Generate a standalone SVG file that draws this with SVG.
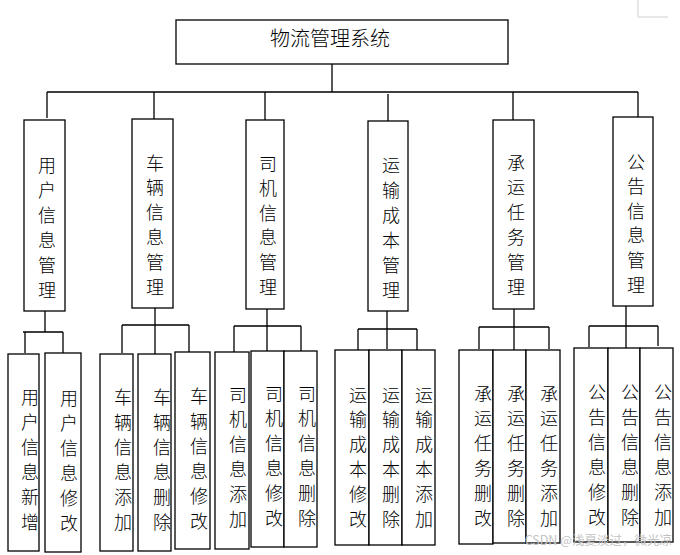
<svg xmlns="http://www.w3.org/2000/svg" width="680" height="555" viewBox="0 0 680 555">
<style>
.box{fill:#fff;stroke:#000;stroke-width:1.3}
.ln{fill:none;stroke:#000;stroke-width:1.3}
.t{font-family:"Noto Sans CJK SC","Noto Sans CJK JP",sans-serif;font-size:18px;font-weight:300;fill:#000;text-anchor:middle}
.title{font-family:"Noto Sans CJK SC","Noto Sans CJK JP",sans-serif;font-size:20px;font-weight:300;fill:#000;text-anchor:middle}
.wm{font-family:"Noto Sans CJK SC","Noto Sans CJK JP",sans-serif;font-size:12.5px;fill:#c4c4c4;text-anchor:end}
</style>
<rect width="680" height="555" fill="#fff"/>
<path d="M638 0V17H668" fill="none" stroke="#d0d0d0" stroke-width="1"/>

<g id="connectors">
<path class="ln" d="M332 64V92M47 92H638M47 92V118M154 92V119M265 92V120M388 94V121M513 92V120M638 92V117"/>
<path class="ln" d="M45 311V332M23 332H63M25 332V353M63 332V354"/>
<path class="ln" d="M155 308V325M122 325H189M122 325V353M155 325V354M189 325V352"/>
<path class="ln" d="M267 309V326M234 326H301M234 326V352M267 326V351M301 326V351"/>
<path class="ln" d="M387 311V349M358 329H417M358 329V350M417 329V350"/>
<path class="ln" d="M514 309V350M479 327H549M479 327V349M549 327V349"/>
<path class="ln" d="M626 306V348M589 326H658M589 326V347M658 326V346"/>
</g>

<g id="root"><rect class="box" x="176" y="20" width="332" height="44"/><text class="title" x="330" y="46">物流管理系统</text></g>

<g id="m1"><rect class="box" x="24" y="120" width="41" height="191"/><text class="t" x="47" y="171.5"><tspan x="47">用</tspan><tspan x="47" dy="25">户</tspan><tspan x="47" dy="25">信</tspan><tspan x="47" dy="25">息</tspan><tspan x="47" dy="25">管</tspan><tspan x="47" dy="25">理</tspan></text></g>
<g id="m2"><rect class="box" x="132" y="119" width="41" height="189"/><text class="t" x="155" y="169.5"><tspan x="155">车</tspan><tspan x="155" dy="24.8">辆</tspan><tspan x="155" dy="24.8">信</tspan><tspan x="155" dy="24.8">息</tspan><tspan x="155" dy="24.8">管</tspan><tspan x="155" dy="24.8">理</tspan></text></g>
<g id="m3"><rect class="box" x="246" y="120" width="38" height="189"/><text class="t" x="268" y="170.5"><tspan x="268">司</tspan><tspan x="268" dy="24.6">机</tspan><tspan x="268" dy="24.6">信</tspan><tspan x="268" dy="24.6">息</tspan><tspan x="268" dy="24.6">管</tspan><tspan x="268" dy="24.6">理</tspan></text></g>
<g id="m4"><rect class="box" x="368" y="121" width="40" height="190"/><text class="t" x="391" y="171.5"><tspan x="391">运</tspan><tspan x="391" dy="25">输</tspan><tspan x="391" dy="25">成</tspan><tspan x="391" dy="25">本</tspan><tspan x="391" dy="25">管</tspan><tspan x="391" dy="25">理</tspan></text></g>
<g id="m5"><rect class="box" x="493" y="120" width="41" height="189"/><text class="t" x="516" y="169.5"><tspan x="516">承</tspan><tspan x="516" dy="24.8">运</tspan><tspan x="516" dy="24.8">任</tspan><tspan x="516" dy="24.8">务</tspan><tspan x="516" dy="24.8">管</tspan><tspan x="516" dy="24.8">理</tspan></text></g>
<g id="m6"><rect class="box" x="613" y="117" width="40" height="189"/><text class="t" x="636" y="168.5"><tspan x="636">公</tspan><tspan x="636" dy="24.6">告</tspan><tspan x="636" dy="24.6">信</tspan><tspan x="636" dy="24.6">息</tspan><tspan x="636" dy="24.6">管</tspan><tspan x="636" dy="24.6">理</tspan></text></g>

<g id="l1"><rect class="box" x="8" y="354" width="31" height="197"/><text class="t" y="403.5"><tspan x="30">用</tspan><tspan x="30" dy="25">户</tspan><tspan x="30" dy="25">信</tspan><tspan x="30" dy="25">息</tspan><tspan x="30" dy="25">新</tspan><tspan x="30" dy="25">增</tspan></text></g>
<g id="l2"><rect class="box" x="45" y="353" width="36" height="199"/><text class="t" y="404.5"><tspan x="69">用</tspan><tspan x="69" dy="25">户</tspan><tspan x="69" dy="25">信</tspan><tspan x="69" dy="25">息</tspan><tspan x="69" dy="25">修</tspan><tspan x="69" dy="25">改</tspan></text></g>
<g id="l3"><rect class="box" x="100" y="354" width="33" height="197"/><text class="t" y="403.5"><tspan x="123">车</tspan><tspan x="123" dy="25">辆</tspan><tspan x="123" dy="25">信</tspan><tspan x="123" dy="25">息</tspan><tspan x="123" dy="25">添</tspan><tspan x="123" dy="25">加</tspan></text></g>
<g id="l4"><rect class="box" x="138" y="354" width="33" height="197"/><text class="t" y="403.5"><tspan x="162">车</tspan><tspan x="162" dy="25">辆</tspan><tspan x="162" dy="25">信</tspan><tspan x="162" dy="25">息</tspan><tspan x="162" dy="25">删</tspan><tspan x="162" dy="25">除</tspan></text></g>
<g id="l5"><rect class="box" x="175" y="352" width="35" height="197"/><text class="t" y="402.5"><tspan x="199">车</tspan><tspan x="199" dy="25">辆</tspan><tspan x="199" dy="25">信</tspan><tspan x="199" dy="25">息</tspan><tspan x="199" dy="25">修</tspan><tspan x="199" dy="25">改</tspan></text></g>
<g id="l6"><rect class="box" x="215" y="352" width="34" height="197"/><text class="t" y="401.5"><tspan x="238">司</tspan><tspan x="238" dy="24.8">机</tspan><tspan x="238" dy="24.8">信</tspan><tspan x="238" dy="24.8">息</tspan><tspan x="238" dy="24.8">添</tspan><tspan x="238" dy="24.8">加</tspan></text></g>
<g id="l7"><rect class="box" x="251" y="351" width="33" height="196"/><text class="t" y="400.5"><tspan x="274">司</tspan><tspan x="274" dy="24.8">机</tspan><tspan x="274" dy="24.8">信</tspan><tspan x="274" dy="24.8">息</tspan><tspan x="274" dy="24.8">修</tspan><tspan x="274" dy="24.8">改</tspan></text></g>
<g id="l8"><rect class="box" x="284" y="351" width="33" height="196"/><text class="t" y="400.5"><tspan x="307">司</tspan><tspan x="307" dy="24.8">机</tspan><tspan x="307" dy="24.8">信</tspan><tspan x="307" dy="24.8">息</tspan><tspan x="307" dy="24.8">删</tspan><tspan x="307" dy="24.8">除</tspan></text></g>
<g id="l9"><rect class="box" x="335" y="350" width="34" height="195"/><text class="t" y="401.5"><tspan x="358">运</tspan><tspan x="358" dy="24.8">输</tspan><tspan x="358" dy="24.8">成</tspan><tspan x="358" dy="24.8">本</tspan><tspan x="358" dy="24.8">修</tspan><tspan x="358" dy="24.8">改</tspan></text></g>
<g id="l10"><rect class="box" x="369" y="350" width="33" height="195"/><text class="t" y="401.5"><tspan x="391">运</tspan><tspan x="391" dy="24.8">输</tspan><tspan x="391" dy="24.8">成</tspan><tspan x="391" dy="24.8">本</tspan><tspan x="391" dy="24.8">删</tspan><tspan x="391" dy="24.8">除</tspan></text></g>
<g id="l11"><rect class="box" x="402" y="350" width="33" height="195"/><text class="t" y="401.5"><tspan x="424">运</tspan><tspan x="424" dy="24.8">输</tspan><tspan x="424" dy="24.8">成</tspan><tspan x="424" dy="24.8">本</tspan><tspan x="424" dy="24.8">添</tspan><tspan x="424" dy="24.8">加</tspan></text></g>
<g id="l12"><rect class="box" x="459" y="350" width="34" height="194"/><text class="t" y="400.5"><tspan x="483">承</tspan><tspan x="483" dy="24.8">运</tspan><tspan x="483" dy="24.8">任</tspan><tspan x="483" dy="24.8">务</tspan><tspan x="483" dy="24.8">删</tspan><tspan x="483" dy="24.8">改</tspan></text></g>
<g id="l13"><rect class="box" x="493" y="350" width="33" height="193"/><text class="t" y="400.5"><tspan x="516">承</tspan><tspan x="516" dy="24.8">运</tspan><tspan x="516" dy="24.8">任</tspan><tspan x="516" dy="24.8">务</tspan><tspan x="516" dy="24.8">删</tspan><tspan x="516" dy="24.8">除</tspan></text></g>
<g id="l14"><rect class="box" x="526" y="350" width="34" height="193"/><text class="t" y="400.5"><tspan x="549">承</tspan><tspan x="549" dy="24.8">运</tspan><tspan x="549" dy="24.8">任</tspan><tspan x="549" dy="24.8">务</tspan><tspan x="549" dy="24.8">添</tspan><tspan x="549" dy="24.8">加</tspan></text></g>
<g id="l15"><rect class="box" x="574" y="348" width="34" height="194"/><text class="t" y="398.5"><tspan x="597">公</tspan><tspan x="597" dy="25">告</tspan><tspan x="597" dy="25">信</tspan><tspan x="597" dy="25">息</tspan><tspan x="597" dy="25">修</tspan><tspan x="597" dy="25">改</tspan></text></g>
<g id="l16"><rect class="box" x="608" y="348" width="32" height="194"/><text class="t" y="398.5"><tspan x="630">公</tspan><tspan x="630" dy="25">告</tspan><tspan x="630" dy="25">信</tspan><tspan x="630" dy="25">息</tspan><tspan x="630" dy="25">删</tspan><tspan x="630" dy="25">除</tspan></text></g>
<g id="l17"><rect class="box" x="640" y="348" width="33" height="194"/><text class="t" y="398.5"><tspan x="663">公</tspan><tspan x="663" dy="25">告</tspan><tspan x="663" dy="25">信</tspan><tspan x="663" dy="25">息</tspan><tspan x="663" dy="25">添</tspan><tspan x="663" dy="25">加</tspan></text></g>

<text class="wm" x="672" y="545">CSDN @浅夏淡过，微光凉</text>
</svg>
